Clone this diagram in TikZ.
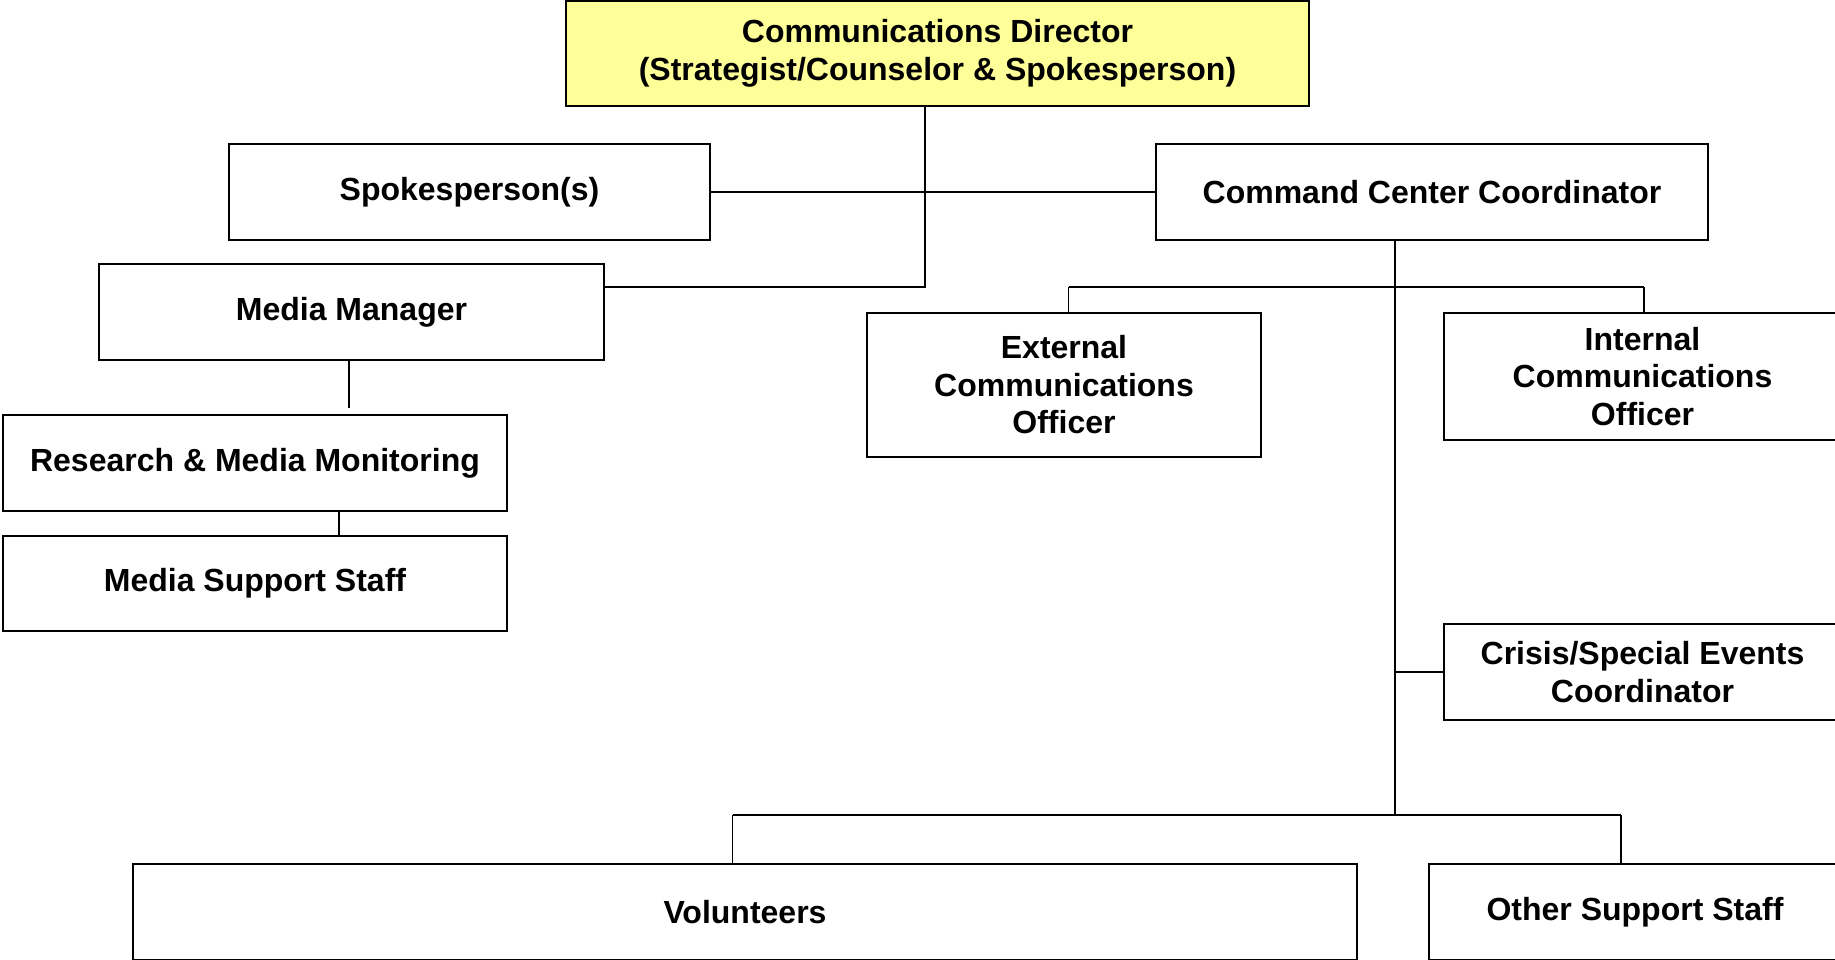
\documentclass[tikz,border=0pt]{standalone}
\usepackage{fontspec}
\setmainfont{Liberation Sans}
\definecolor{diryellow}{HTML}{FFFF99}
\begin{document}
\begin{tikzpicture}[x=1pt,y=-1pt,
  box/.style={draw=black,line width=2pt,fill=white,anchor=north west,inner sep=0pt,
    align=center,font=\fontsize{32}{37.5}\selectfont\bfseries},
  conn/.style={draw=black,line width=1.5pt}]
\useasboundingbox (0,0) rectangle (1835,960);
\clip (0,0) rectangle (1835,960);
% boxes
\node[box,fill=diryellow,minimum width=743pt,minimum height=105pt] (dir) at (565,0)
  {Communications Director\\(Strategist/Counselor \& Spokesperson)};
\node[box,minimum width=481pt,minimum height=96pt] (spk) at (228,143) {Spokesperson(s)};
\node[box,minimum width=552pt,minimum height=96pt] (ccc) at (1155,143) {Command Center Coordinator};
\node[box,minimum width=505pt,minimum height=96pt] (mm) at (98,263) {Media Manager};
\node[box,minimum width=504pt,minimum height=96pt] (rmm) at (2,414) {Research \& Media Monitoring};
\node[box,minimum width=504pt,minimum height=95pt] (mss) at (2,535) {Media Support Staff};
\node[box,minimum width=394pt,minimum height=144pt] (ext) at (866,312) {External\\Communications\\Officer};
\node[box,minimum width=397pt,minimum height=127pt] (int) at (1443,312) {Internal\\Communications\\Officer};
\node[box,minimum width=397pt,minimum height=96pt] (cse) at (1443,623) {Crisis/Special Events\\Coordinator};
\node[box,minimum width=1224pt,minimum height=96pt] (vol) at (132,863) {Volunteers};
\node[box,minimum width=412pt,minimum height=96pt] (oss) at (1428,863) {Other Support Staff};
% junction coordinates
\coordinate (j1) at (925,287);
\coordinate (mmend) at (349,408);
\coordinate (cx) at (1395,287);
\coordinate (extj) at (1068.5,287);
\coordinate (intj) at (1644,287);
\coordinate (bot) at (1395,815);
\coordinate (volj) at (732.6,815);
\coordinate (ossj) at (1621,815);
\coordinate (rx) at (339,0);
% connectors
\draw[conn] (dir.south -| j1) -- (j1) -- (mm.east |- j1);
\draw[conn] (spk.east) -- (ccc.west);
\draw[conn] (mm.south -| mmend) -- (mmend);
\draw[conn] (rmm.south -| rx) -- (mss.north -| rx);
\draw[conn] (ccc.south -| bot) -- (bot);
\draw[conn] (extj) -- (intj);
\draw[conn] (extj) -- (ext.north -| extj);
\draw[conn] (intj) -- (int.north -| intj);
\draw[conn] (cse.west -| bot) -- (cse.west);
\draw[conn] (volj) -- (ossj);
\draw[conn] (volj) -- (vol.north -| volj);
\draw[conn] (ossj) -- (oss.north -| ossj);
\end{tikzpicture}
\end{document}
